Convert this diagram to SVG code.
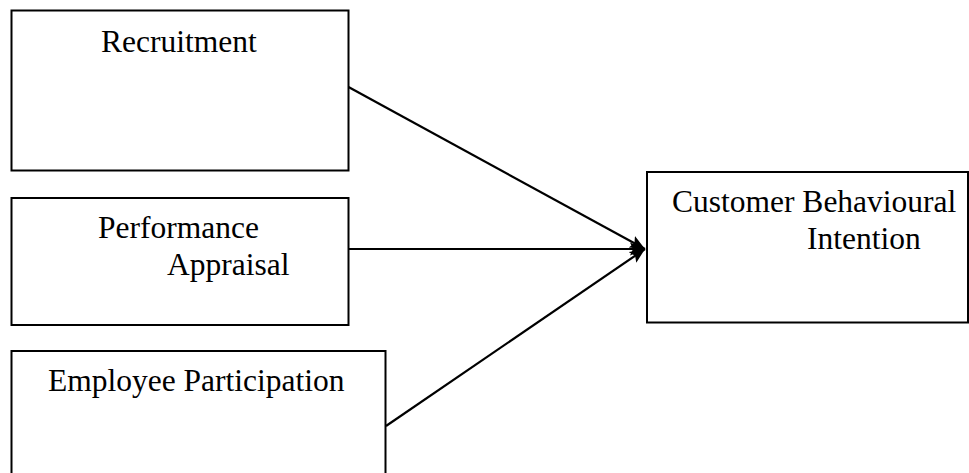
<svg xmlns="http://www.w3.org/2000/svg" width="969" height="473" viewBox="0 0 969 473">
<style>
.box{fill:#fff;stroke:#000;stroke-width:2}
.lbl{font-family:"Liberation Serif","Times New Roman",serif;font-size:31.5px;fill:#000}
.conn{stroke:#000;stroke-width:2.2;fill:none}
</style>
<defs>
<marker id="ah" markerUnits="userSpaceOnUse" markerWidth="16" markerHeight="16" refX="15" refY="8" orient="auto">
<path d="M0,1.5 L15,8 L0,14.5 L3,8 z" fill="#000"/>
</marker>
</defs>
<rect width="969" height="473" fill="#fff"/>
<g id="recruitment">
<rect class="box" x="11.5" y="10.5" width="337" height="160"/>
<text class="lbl" x="101" y="52">Recruitment</text>
</g>
<g id="performance-appraisal">
<rect class="box" x="11.5" y="198" width="337" height="127"/>
<text class="lbl" x="98" y="238">Performance</text>
<text class="lbl" x="167" y="275">Appraisal</text>
</g>
<g id="employee-participation">
<rect class="box" x="11.5" y="351" width="374" height="130"/>
<text class="lbl" x="48" y="391">Employee Participation</text>
</g>
<g id="customer-behavioural-intention">
<rect class="box" x="647" y="172" width="321" height="150.5"/>
<text class="lbl" x="672" y="212">Customer Behavioural</text>
<text class="lbl" x="807" y="249">Intention</text>
</g>
<g id="connectors">
<line class="conn" x1="348.5" y1="87" x2="645" y2="249" marker-end="url(#ah)"/>
<line class="conn" x1="348.5" y1="249" x2="645" y2="249" marker-end="url(#ah)"/>
<line class="conn" x1="386" y1="426" x2="645" y2="249" marker-end="url(#ah)"/>
</g>
</svg>
